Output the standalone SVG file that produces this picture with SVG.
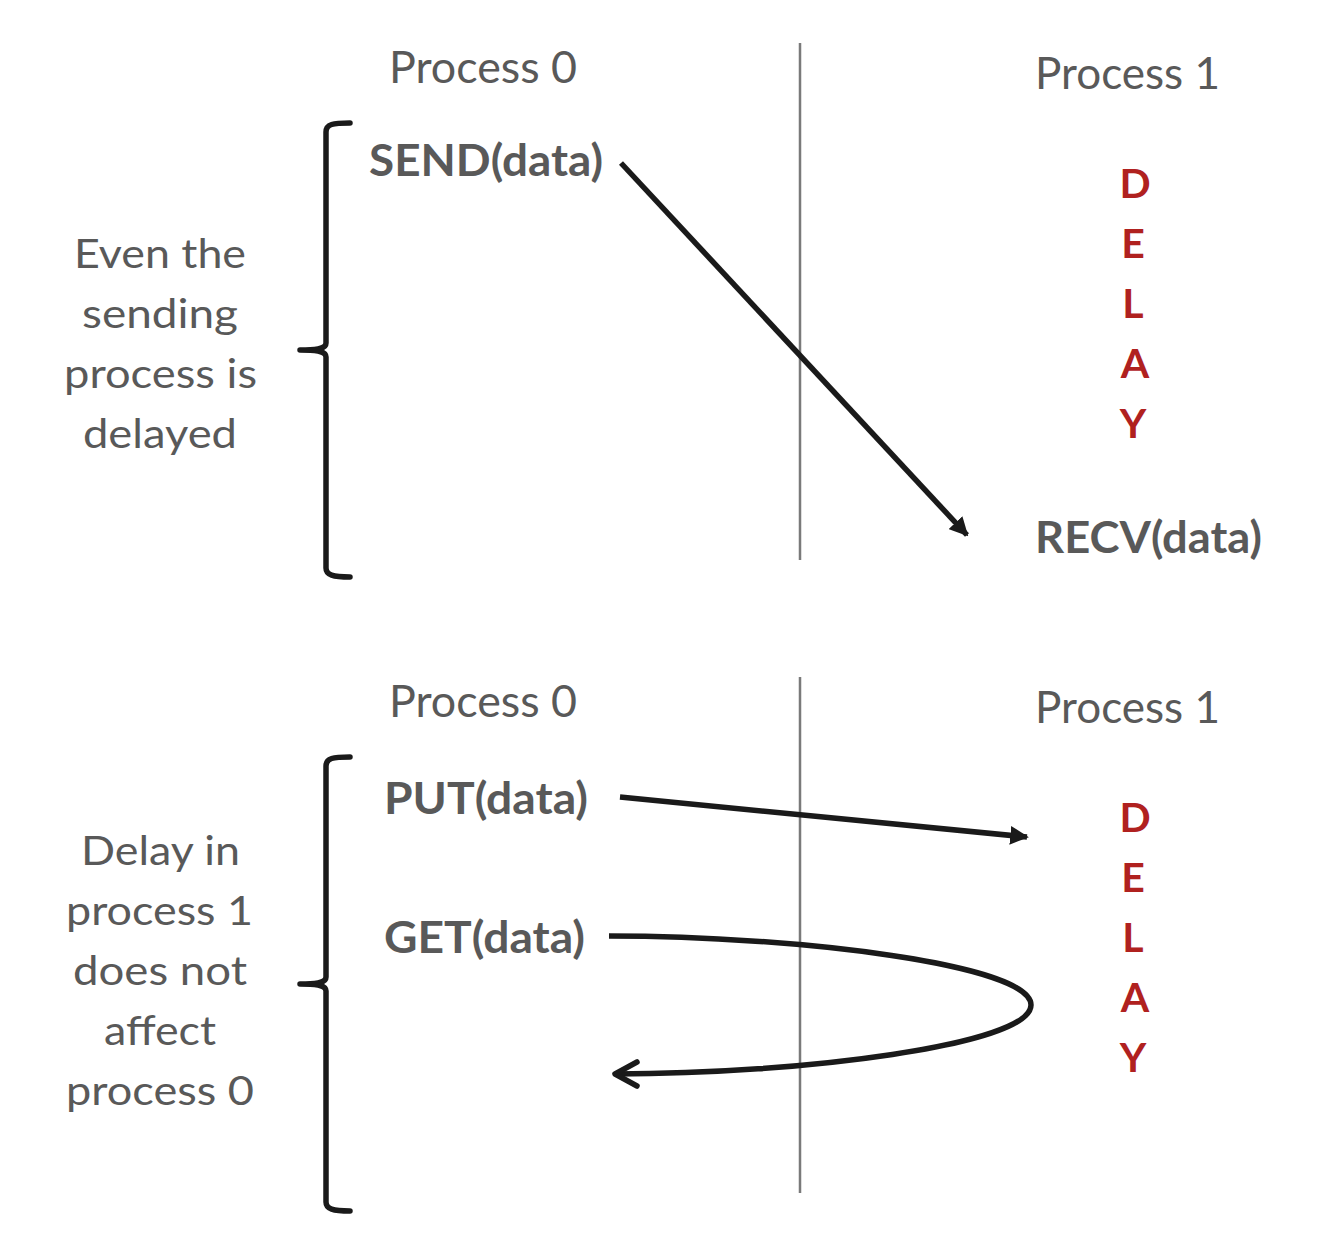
<svg xmlns="http://www.w3.org/2000/svg" width="1338" height="1236" viewBox="0 0 1338 1236">
<style>
.lbl{font-family:Lato,"Open Sans","Liberation Sans",sans-serif;fill:#595959;}
.reg{font-size:44px;}
.side{font-size:40px;}
.bold{font-size:43px;font-weight:bold;}
.delay{font-family:Lato,"Open Sans","Liberation Sans",sans-serif;font-size:41px;font-weight:bold;fill:#B0211F;text-anchor:middle;}
.divider{stroke:#7a7a7a;stroke-width:2.5;fill:none;}
.brace{stroke:#1a1a1a;stroke-width:5.5;fill:none;stroke-linecap:round;stroke-linejoin:round;}
.conn{stroke:#1a1a1a;stroke-width:5.5;fill:none;}
</style>
<defs>
<marker id="tri" viewBox="0 0 10 10" refX="9" refY="5" markerWidth="3.4" markerHeight="3.4" orient="auto" markerUnits="strokeWidth">
<path d="M0,0 L10,5 L0,10 Z" fill="#1a1a1a"/>
</marker>
</defs>
<g id="dividers">
<line class="divider" x1="800" y1="43" x2="800" y2="560"/>
<line class="divider" x1="800" y1="677" x2="800" y2="1193"/>
</g>
<g id="brace-top">
<path class="brace" d="M350,123 C333,123 326,124 326,132 L326,343 C326,348 320,350 300,350 C320,350 326,352 326,357 L326,568 C326,575 333,577 350,577"/>
</g>
<g id="brace-bottom">
<path class="brace" d="M350,757 C333,757 326,758 326,766 L326,977 C326,982 320,984 300,984 C320,984 326,986 326,991 L326,1202 C326,1209 333,1211 350,1211"/>
</g>
<g id="label-top">
<text class="lbl side" x="74" y="268" textLength="172" lengthAdjust="spacingAndGlyphs">Even the</text>
<text class="lbl side" x="82" y="328" textLength="156" lengthAdjust="spacingAndGlyphs">sending</text>
<text class="lbl side" x="64" y="388" textLength="193" lengthAdjust="spacingAndGlyphs">process is</text>
<text class="lbl side" x="83" y="448" textLength="154" lengthAdjust="spacingAndGlyphs">delayed</text>
</g>
<g id="label-bottom">
<text class="lbl side" x="81" y="865" textLength="159" lengthAdjust="spacingAndGlyphs">Delay in</text>
<text class="lbl side" x="66" y="925" textLength="187" lengthAdjust="spacingAndGlyphs">process 1</text>
<text class="lbl side" x="73" y="985" textLength="174" lengthAdjust="spacingAndGlyphs">does not</text>
<text class="lbl side" x="104" y="1045" textLength="112" lengthAdjust="spacingAndGlyphs">affect</text>
<text class="lbl side" x="66" y="1105" textLength="188" lengthAdjust="spacingAndGlyphs">process 0</text>
</g>
<g id="p0-top"><text class="lbl reg" x="389" y="83" textLength="188" lengthAdjust="spacingAndGlyphs">Process 0</text></g>
<g id="p1-top"><text class="lbl reg" x="1035" y="89" textLength="185" lengthAdjust="spacingAndGlyphs">Process 1</text></g>
<g id="send"><text class="lbl bold" x="369" y="176" textLength="234" lengthAdjust="spacingAndGlyphs">SEND(data)</text></g>
<g id="recv"><text class="lbl bold" x="1035" y="553" textLength="227" lengthAdjust="spacingAndGlyphs">RECV(data)</text></g>
<g id="delay-top">
<text class="delay" x="1135" y="198">D</text>
<text class="delay" x="1133" y="258">E</text>
<text class="delay" x="1133" y="318">L</text>
<text class="delay" x="1135" y="378">A</text>
<text class="delay" x="1133" y="438">Y</text>
</g>
<g id="p0-bottom"><text class="lbl reg" x="389" y="717" textLength="188" lengthAdjust="spacingAndGlyphs">Process 0</text></g>
<g id="p1-bottom"><text class="lbl reg" x="1035" y="723" textLength="185" lengthAdjust="spacingAndGlyphs">Process 1</text></g>
<g id="put"><text class="lbl bold" x="384" y="814" textLength="204" lengthAdjust="spacingAndGlyphs">PUT(data)</text></g>
<g id="get"><text class="lbl bold" x="384" y="953" textLength="201" lengthAdjust="spacingAndGlyphs">GET(data)</text></g>
<g id="delay-bottom">
<text class="delay" x="1135" y="832">D</text>
<text class="delay" x="1133" y="892">E</text>
<text class="delay" x="1133" y="952">L</text>
<text class="delay" x="1135" y="1012">A</text>
<text class="delay" x="1133" y="1072">Y</text>
</g>
<g id="connectors">
<line class="conn" x1="621" y1="163" x2="967" y2="535" marker-end="url(#tri)"/>
<line class="conn" x1="620" y1="797" x2="1027" y2="837" marker-end="url(#tri)"/>
<path class="conn" d="M609,936 C800,936 1031,965 1031,1005 C1031,1045 800,1074 615,1074"/>
<path class="conn" stroke-linecap="round" stroke-linejoin="round" d="M637,1062 L615,1074 L637,1086"/>
</g>
</svg>
